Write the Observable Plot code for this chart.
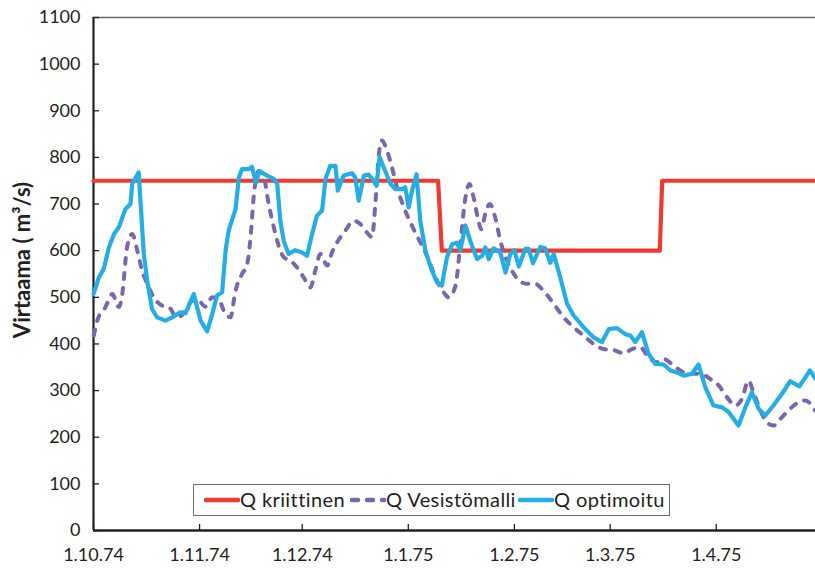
<!DOCTYPE html>
<html><head><meta charset="utf-8">
<script src="https://cdn.jsdelivr.net/npm/d3@7"></script>
<script src="https://cdn.jsdelivr.net/npm/@observablehq/plot@0.6"></script>
<style>
html,body{margin:0;padding:0;background:#fff;}
#wrap{position:relative;width:815px;height:568px;font-family:Lato,sans-serif;color:#231f20;}
#wrap svg.plot{position:absolute;left:0;top:0;}
#legend{position:absolute;left:193px;top:484px;width:475px;height:30px;border:1px solid #6d6d6d;background:#fff;font-size:20px;letter-spacing:0.4px;}
#legend .sw{position:absolute;top:11px;}
#legend .tx{position:absolute;top:2px;line-height:25px;white-space:nowrap;}
</style>
</head><body>
<div id="wrap"></div>
<script>
// Series: day offsets from 1.10.1974 and flow values (m3/s)
const kritDays = [0, 100.7, 101.8, 165.5, 166.2, 211];
const kritFlow = [750, 750, 600, 600, 750, 750];

const vesDays = [0.1,1.1,3.5,5.5,7.4,8.4,9.8,11.3,12.8,14.2,15.7,17.6,20.1,22,24.4,26.4,28.3,30.3,32.7,34.7,36.6,38.1,40,41.5,43.4,44.9,45.9,46.8,48.3,49.8,51.2,52.7,54.1,55.6,57.5,59.5,61.4,63.4,64.8,66.3,68.3,69.7,71.2,73.6,76,78,79.9,81.4,82.4,83.4,84.3,85.8,87.2,88.7,90.7,92.6,94.5,96.5,98.4,100.4,102.3,103.8,105.8,107.2,108.7,109.9,111.1,112.3,113.3,114.5,115.8,117.4,118.9,120.4,122.3,124.3,126.7,129.1,131.5,134.5,137.4,140.3,143.2,146.2,149.1,152,154.9,157.4,159.8,162.2,164.7,166.6,169,171.5,174.4,177.3,180.2,182.7,185.1,187.6,189.5,191.4,192.9,194.9,196.8,198.7,201.2,203.6,206.1,208,210.9];
const vesFlow = [418,450,479,507,479,507,607,636,600,557,529,500,482,479,457,466,489,496,480,500,496,471,457,514,550,571,629,714,771,757,700,650,611,586,579,564,543,521,557,593,568,596,618,643,664,657,639,629,704,807,836,814,779,736,693,661,632,604,571,536,511,500,525,614,714,743,714,671,646,679,700,671,621,586,557,536,529,529,514,486,457,436,418,400,389,387,380,389,393,371,361,368,357,343,336,336,325,311,286,268,282,321,296,257,232,225,243,261,275,279,257];

const optDays = [0,1.6,3,4.5,6,7.4,9.3,10.8,11.3,13.2,14.7,15.7,17.1,18.6,21,23,25.4,26.9,29.3,31.3,33.2,34.7,36.1,37.6,38.6,39.5,41.5,42.5,43.4,45.4,46.3,47.5,48.5,50.7,52.7,53.7,54.6,55.6,57,59,61,62.4,63.9,65.3,66.8,67.8,69.2,70.7,71.4,73.1,75.6,76.5,77.5,79,80.4,81.9,82.7,83.6,84.8,86.8,88.2,90.2,91.1,92.1,93.1,94.4,95.5,97,98.9,100.4,101.8,103.3,104.8,106.2,107.2,108.7,110.1,112.1,113.6,114.5,115.5,116.9,118.9,120.4,121.8,123,124.3,126.2,127.2,128.4,130.6,132,133.5,134.5,136.4,138.4,140.3,143.2,146.2,148.6,150.6,153,155.4,156.9,158.3,160.3,162.2,164.2,166.6,168.6,170.5,172.5,174.9,176.8,178.8,181.2,183.7,185.6,188.5,190.5,192.4,194.4,196.3,198.7,201.2,203.6,206.3,209.4,211];
const optFlow = [507,543,561,607,636,650,689,700,743,768,593,536,475,457,450,457,468,466,507,450,427,464,504,511,600,643,689,757,775,775,780,746,771,761,754,743,664,621,593,601,596,589,636,675,686,754,782,782,729,761,766,757,707,761,763,750,739,801,779,743,732,732,736,693,729,764,664,600,557,532,525,586,614,617,600,654,621,582,589,607,582,605,596,553,593,601,566,604,604,573,608,605,574,593,543,486,461,436,414,404,432,434,421,418,404,425,379,357,356,343,339,332,336,356,307,268,264,254,225,264,296,261,246,268,293,320,309,343,325];

const monthTicks = [0, 31, 61, 92, 123, 151, 182];
const monthLabels = ["1.10.74","1.11.74","1.12.74","1.1.75","1.2.75","1.3.75","1.4.75"];
const yTicks = [0,100,200,300,400,500,600,700,800,900,1000,1100];
const yTitle = "Virtaama ( m³/s)";
const seriesNames = ["Q kriittinen", "Q Vesistömalli", "Q optimoitu"];
const seriesColors = ["#ee3a30", "#7b66ad", "#25aee3"];

const start = Date.UTC(1974, 9, 1);
const toDate = d => new Date(start + d * 864e5);
const mk = (days, flow) => days.map((d, i) => ({date: toDate(d), q: flow[i]}));
const krit = mk(kritDays, kritFlow);
const ves = mk(vesDays, vesFlow);
const opt = mk(optDays, optFlow);
const tickDates = monthTicks.map(toDate);
const ink = "#231f20";

const chart = Plot.plot({
  width: 815, height: 568,
  marginLeft: 93, marginRight: 0, marginTop: 17, marginBottom: 38,
  style: {fontFamily: "Lato, sans-serif", fontSize: "18px", color: ink, background: "#fff", overflow: "visible"},
  x: {type: "utc", domain: [toDate(0), toDate(211)]},
  y: {domain: [0, 1100]},
  marks: [
    Plot.ruleY([1100], {stroke: "#6b6b6b", strokeWidth: 1.6}),
    Plot.axisY({ticks: yTicks, tickSize: 0, tickPadding: 13, label: null, fontSize: 18, tickFormat: d => String(d)}),
    Plot.axisY({ticks: yTicks, tickSize: 6, dx: 6, tickFormat: () => "", label: null, stroke: ink, strokeWidth: 1.3}),
    Plot.axisX({ticks: tickDates, tickSize: 0, tickPadding: 18, label: null, fontSize: 18,
      tickFormat: d => monthLabels[tickDates.findIndex(t => +t === +d)]}),
    Plot.axisX({ticks: tickDates, tickSize: 6, dy: -6, tickFormat: () => "", label: null, stroke: ink, strokeWidth: 1.3}),
    Plot.ruleX([toDate(0)], {stroke: ink, strokeWidth: 2.2}),
    Plot.ruleY([0], {stroke: ink, strokeWidth: 2.5}),
    Plot.line(krit, {x: "date", y: "q", stroke: seriesColors[0], strokeWidth: 4.2}),
    Plot.line(ves, {x: "date", y: "q", stroke: seriesColors[1], strokeWidth: 4, strokeDasharray: "6,9", strokeLinecap: "round", curve: "monotone-x"}),
    Plot.line(opt, {x: "date", y: "q", stroke: seriesColors[2], strokeWidth: 4.2, strokeLinejoin: "round"}),
    Plot.text([yTitle], {frameAnchor: "left", textAnchor: "middle", rotate: -90, dx: -71, dy: -14, fontWeight: "bold", fontSize: 22, fill: ink})
  ]
});

const wrap = document.getElementById("wrap");
wrap.appendChild(chart);

const legend = document.createElement("div");
legend.id = "legend";
const swLeft = [10, 156, 324];
const txLeft = [46, 192, 360];
seriesNames.forEach((name, i) => {
  const ns = "http://www.w3.org/2000/svg";
  const sw = document.createElementNS(ns, "svg");
  sw.setAttribute("class", "sw");
  sw.setAttribute("width", 36); sw.setAttribute("height", 8);
  sw.style.left = swLeft[i] + "px";
  const ln = document.createElementNS(ns, "line");
  ln.setAttribute("x1", 2); ln.setAttribute("x2", 34); ln.setAttribute("y1", 4); ln.setAttribute("y2", 4);
  ln.setAttribute("stroke", seriesColors[i]); ln.setAttribute("stroke-width", 4.5);
  ln.setAttribute("stroke-linecap", "round");
  if (i === 1) ln.setAttribute("stroke-dasharray", "6,9");
  sw.appendChild(ln);
  legend.appendChild(sw);
  const tx = document.createElement("span");
  tx.className = "tx";
  tx.style.left = txLeft[i] + "px";
  tx.textContent = name;
  legend.appendChild(tx);
});
wrap.appendChild(legend);
</script>
</body></html>
